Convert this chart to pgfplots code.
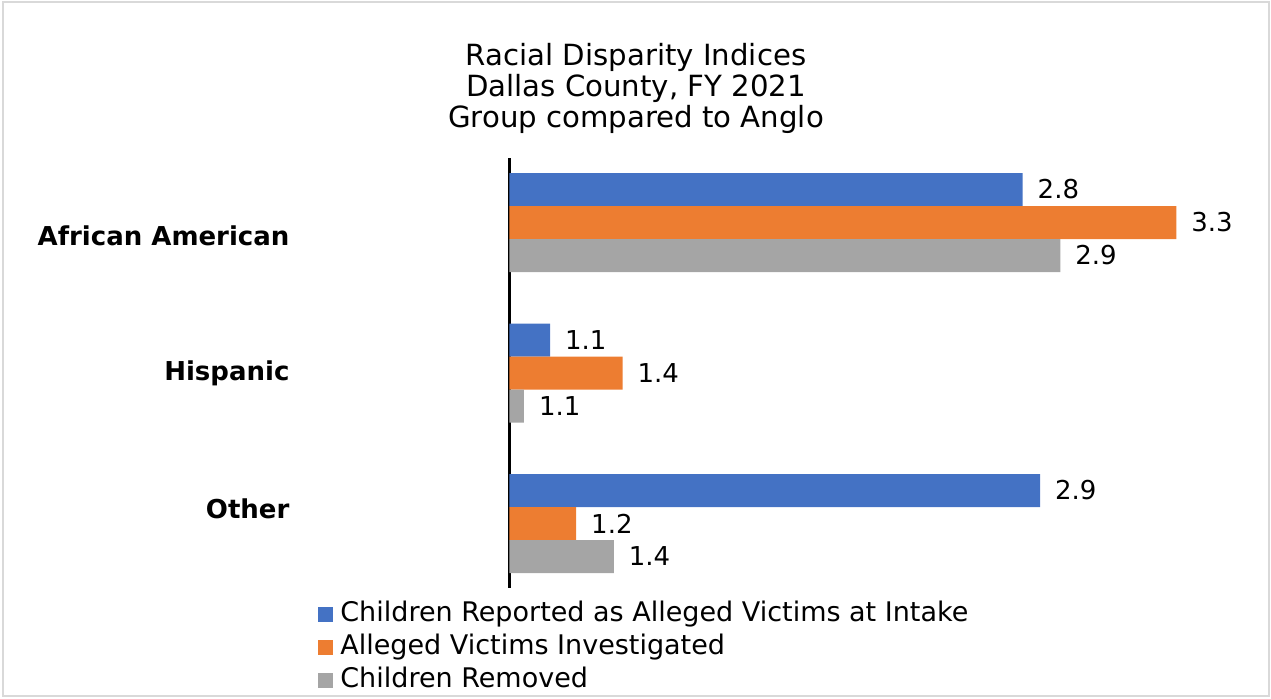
\documentclass[border=0pt]{standalone}
\usepackage{fontspec}
\setmainfont{DejaVu Sans}
\usepackage{pgfplots}
\usepackage{pgfplotstable}
\pgfplotsset{compat=1.18}

\definecolor{cblue}{HTML}{4472C4}
\definecolor{corange}{HTML}{ED7D31}
\definecolor{cgray}{HTML}{A5A5A5}
\definecolor{frame}{HTML}{D9D9D9}

% index value, category (0 African American, 1 Hispanic, 2 Other), printed label
\pgfplotstableread{
val cat lab
2.77 0 2.8
1.14 1 1.1
2.83 2 2.9
}\intake
\pgfplotstableread{
val cat lab
3.30 0 3.3
1.39 1 1.4
1.23 2 1.2
}\investigated
\pgfplotstableread{
val cat lab
2.90 0 2.9
1.05 1 1.1
1.36 2 1.4
}\removed

\begin{document}
\begin{tikzpicture}
\useasboundingbox (0pt,0pt) rectangle (635.5pt,-349pt);
\draw[frame, line width=1pt] (1.25pt,-0.75pt) rectangle (634.5pt,-348pt);

\node[anchor=base, font=\fontsize{14.6}{16}\selectfont] at (318pt,-32.5pt) {Racial Disparity Indices};
\node[anchor=base, font=\fontsize{14.6}{16}\selectfont] at (318pt,-48pt) {Dallas County, FY 2021};
\node[anchor=base, font=\fontsize{14.6}{16}\selectfont] at (318pt,-63.5pt) {Group compared to Anglo};

\begin{axis}[
    at={(254.75pt,-294pt)}, anchor=south west,
    scale only axis, width=362.4pt, height=215pt,
    xbar, bar width=16.5pt,
    xmin=1, xmax=3.5,
    ymin=-0.4286, ymax=2.4286, y dir=reverse,
    axis x line=none, axis y line*=left,
    y axis line style={line width=1.5pt, black},
    xtick=\empty,
    ytick={0.09,1,1.904},
    yticklabels={African American, Hispanic, Other},
    major tick length=0pt,
    yticklabel style={font=\bfseries\fontsize{13}{15}\selectfont, xshift=-106.5pt},
    nodes near coords, point meta=explicit symbolic,
    every node near coord/.append style={font=\fontsize{13}{15}\selectfont, anchor=west, xshift=4pt, black},
    legend style={draw=none, fill=none, at={(-0.2642,-0.030)}, anchor=north west,
        font=\fontsize{13.5}{16}\selectfont, inner sep=0pt,
        nodes={inner ysep=0pt, text height=10pt, text depth=3pt}, row sep=3.5pt},
    legend cell align=left,
    legend image code/.code={\fill[#1, draw=none] (0pt,-3.75pt) rectangle (7.5pt,3.75pt);
        \path (9pt,0pt);},
]
\addplot[fill=cblue, draw=none, bar shift=16.5pt] table[x=val, y=cat, meta=lab] {\intake};
\addplot[fill=corange, draw=none, bar shift=0pt] table[x=val, y=cat, meta=lab] {\investigated};
\addplot[fill=cgray, draw=none, bar shift=-16.5pt] table[x=val, y=cat, meta=lab] {\removed};
\legend{Children Reported as Alleged Victims at Intake, Alleged Victims Investigated, Children Removed}
\end{axis}
\end{tikzpicture}
\end{document}
